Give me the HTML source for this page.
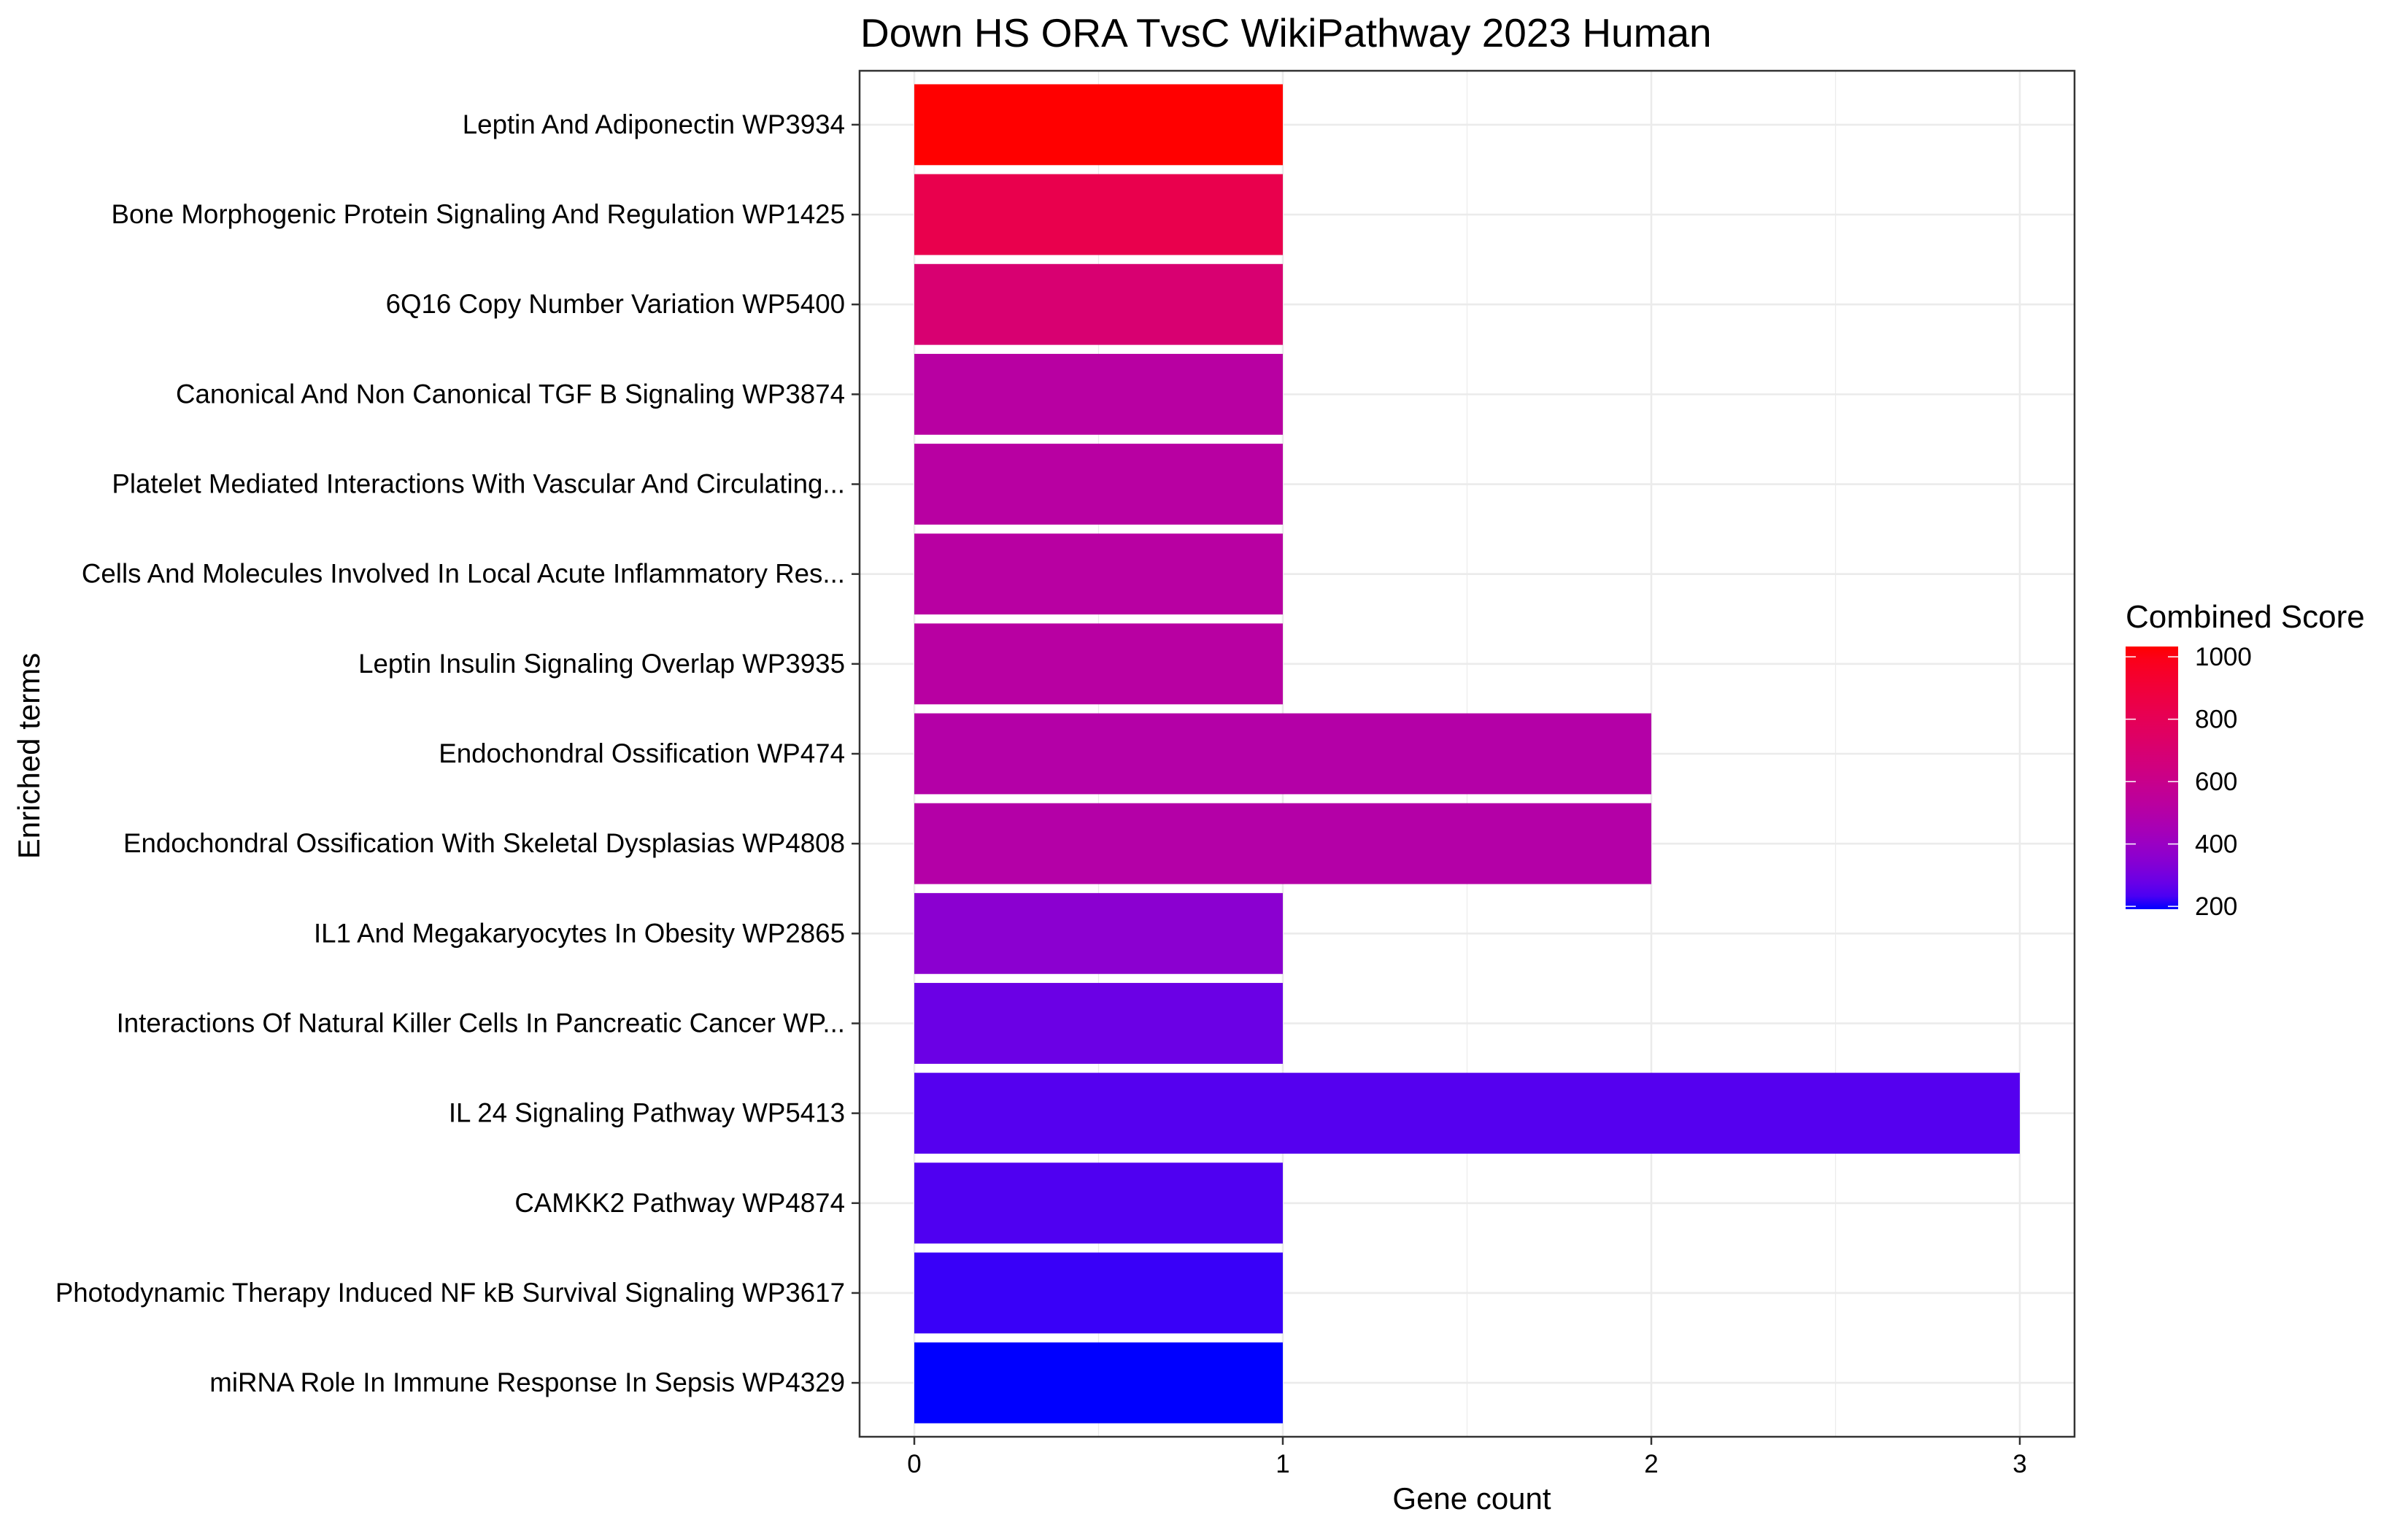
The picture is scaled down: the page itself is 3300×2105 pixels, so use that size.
<!DOCTYPE html>
<html><head><meta charset="utf-8"><style>
html,body{margin:0;padding:0;background:#fff;}
svg text{font-family:"Liberation Sans",Arial,sans-serif;}
</style></head><body>
<svg id="chart" width="3300" height="2100" viewBox="0 0 3300 2100" xmlns="http://www.w3.org/2000/svg">
<defs><linearGradient id="cbar" x1="0" y1="1" x2="0" y2="0"></linearGradient></defs>
<rect width="3300" height="2100" fill="#fff"/>
<text x="1179" y="64" font-size="55" fill="#000">Down HS ORA TvsC WikiPathway 2023 Human</text>
<g id="plot"></g>
<text x="2017" y="2068" font-size="42" text-anchor="middle">Gene count</text>
<text transform="translate(54,1036) rotate(-90)" font-size="42" text-anchor="middle">Enriched terms</text>
<text x="2913" y="860" font-size="44">Combined Score</text>
<g id="legend"></g>
</svg>
<script>
const categories = [
"Leptin And Adiponectin WP3934",
"Bone Morphogenic Protein Signaling And Regulation WP1425",
"6Q16 Copy Number Variation WP5400",
"Canonical And Non Canonical TGF B Signaling WP3874",
"Platelet Mediated Interactions With Vascular And Circulating...",
"Cells And Molecules Involved In Local Acute Inflammatory Res...",
"Leptin Insulin Signaling Overlap WP3935",
"Endochondral Ossification WP474",
"Endochondral Ossification With Skeletal Dysplasias WP4808",
"IL1 And Megakaryocytes In Obesity WP2865",
"Interactions Of Natural Killer Cells In Pancreatic Cancer WP...",
"IL 24 Signaling Pathway WP5413",
"CAMKK2 Pathway WP4874",
"Photodynamic Therapy Induced NF kB Survival Signaling WP3617",
"miRNA Role In Immune Response In Sepsis WP4329"];
const geneCounts = [1,1,1,1,1,1,1,2,2,1,1,3,1,1,1];
const combinedScores = [1033,830,700,520,520,520,520,500,500,355,280,245,238,215,191];
const xTicks = [0,1,2,3];
const legendTicks = [200,400,600,800,1000];

const NS="http://www.w3.org/2000/svg";
const PL=1178, PR=2843, PT=97, PB=1969;
const xS = v => 1253 + v*505;
const n = categories.length;
const step = (PB-PT)/(n+0.2);
const yS = i => PT + step*(0.6+i);
const smin = 191, smax = 1033;

function s2l(c){c/=255;return c<=0.04045?c/12.92:Math.pow((c+0.055)/1.055,2.4);}
function l2s(c){c=c<=0.0031308?12.92*c:1.055*Math.pow(c,1/2.4)-0.055;return Math.round(Math.max(0,Math.min(1,c))*255);}
function toLab(r,g,b){r=s2l(r);g=s2l(g);b=s2l(b);
 let X=(0.4124*r+0.3576*g+0.1805*b)/0.95047,Y=0.2126*r+0.7152*g+0.0722*b,Z=(0.0193*r+0.1192*g+0.9505*b)/1.08883;
 const f=t=>t>0.008856?Math.cbrt(t):7.787*t+16/116;X=f(X);Y=f(Y);Z=f(Z);
 return [116*Y-16,500*(X-Y),200*(Y-Z)];}
function fromLab(L,a,b){let Y=(L+16)/116,X=a/500+Y,Z=Y-b/200;
 const f=t=>t*t*t>0.008856?t*t*t:(t-16/116)/7.787;X=f(X)*0.95047;Y=f(Y);Z=f(Z)*1.08883;
 return [l2s(3.2406*X-1.5372*Y-0.4986*Z),l2s(-0.9689*X+1.8758*Y+0.0415*Z),l2s(0.0557*X-0.2040*Y+1.0570*Z)];}
const LB=toLab(0,0,255), LR=toLab(255,0,0);
function col(v){let t=(v-smin)/(smax-smin);t=Math.max(0,Math.min(1,t));
 const c=fromLab(LB[0]+(LR[0]-LB[0])*t,LB[1]+(LR[1]-LB[1])*t,LB[2]+(LR[2]-LB[2])*t);return `rgb(${c[0]},${c[1]},${c[2]})`;}

function mk(tag,attrs,parent){const e=document.createElementNS(NS,tag);for(const k in attrs)e.setAttribute(k,attrs[k]);parent.appendChild(e);return e;}
const plot=document.getElementById('plot');
let e;
e=mk('rect',{x:PL,y:PT,width:PR-PL,height:PB-PT,fill:'#fff'},plot);


for(let i=0;i<xTicks.length;i++){const v=xTicks[i]+0.5;const x=xS(v);if(x<PR){
 e=mk('line',{x1:x,x2:x,y1:PT,y2:PB,stroke:'#ebebeb','stroke-width':1.2},plot);
 
 }}
for(const v of xTicks){const x=xS(v);
 e=mk('line',{x1:x,x2:x,y1:PT,y2:PB,stroke:'#ebebeb','stroke-width':2.6},plot);
 
 }
for(let i=0;i<n;i++){const y=yS(i);
 e=mk('line',{x1:PL,x2:PR,y1:y,y2:y,stroke:'#ebebeb','stroke-width':2.6},plot);
 
 }
for(let i=0;i<n;i++){const y=yS(i);const h=step*0.9;
 e=mk('rect',{x:xS(0),y:y-h/2,width:xS(geneCounts[i])-xS(0),height:h,fill:col(combinedScores[i])},plot);
 
 
 e=mk('line',{x1:PL-11,x2:PL,y1:y,y2:y,stroke:'#333','stroke-width':2.5},plot);
 
 
 e=mk('text',{x:PL-20,y:y+12,'font-size':36.7,'text-anchor':'end',fill:'#000'},plot);
 e.textContent=categories[i];
 
 }
for(const v of xTicks){const x=xS(v);
 e=mk('line',{x1:x,x2:x,y1:PB,y2:PB+11,stroke:'#333','stroke-width':2.5},plot);
 
 
 e=mk('text',{x:x,y:PB+49,'font-size':35,'text-anchor':'middle',fill:'#000'},plot);
 e.textContent=v;
 
 }
e=mk('rect',{x:PL,y:PT,width:PR-PL,height:PB-PT,fill:'none',stroke:'#333','stroke-width':2.5},plot);



const grad=document.getElementById('cbar');
for(let k=0;k<=20;k++){const v=smin+(smax-smin)*k/20;mk('stop',{offset:(k/20),'stop-color':col(v)},grad);}
const leg=document.getElementById('legend');
const CB=1246, CT=886, lS=v=>CB-(v-smin)/(smax-smin)*(CB-CT);
e=mk('rect',{x:2913,y:CT,width:72,height:CB-CT,fill:'url(#cbar)'},leg);


for(const v of legendTicks){const y=lS(v);
 mk('line',{x1:2913,x2:2927,y1:y,y2:y,stroke:'#fff','stroke-width':1.5},leg);
 mk('line',{x1:2971,x2:2985,y1:y,y2:y,stroke:'#fff','stroke-width':1.5},leg);
 e=mk('text',{x:3008,y:y+12,'font-size':35,fill:'#000'},leg);
 e.textContent=v;
 
 }
</script>
</body></html>
